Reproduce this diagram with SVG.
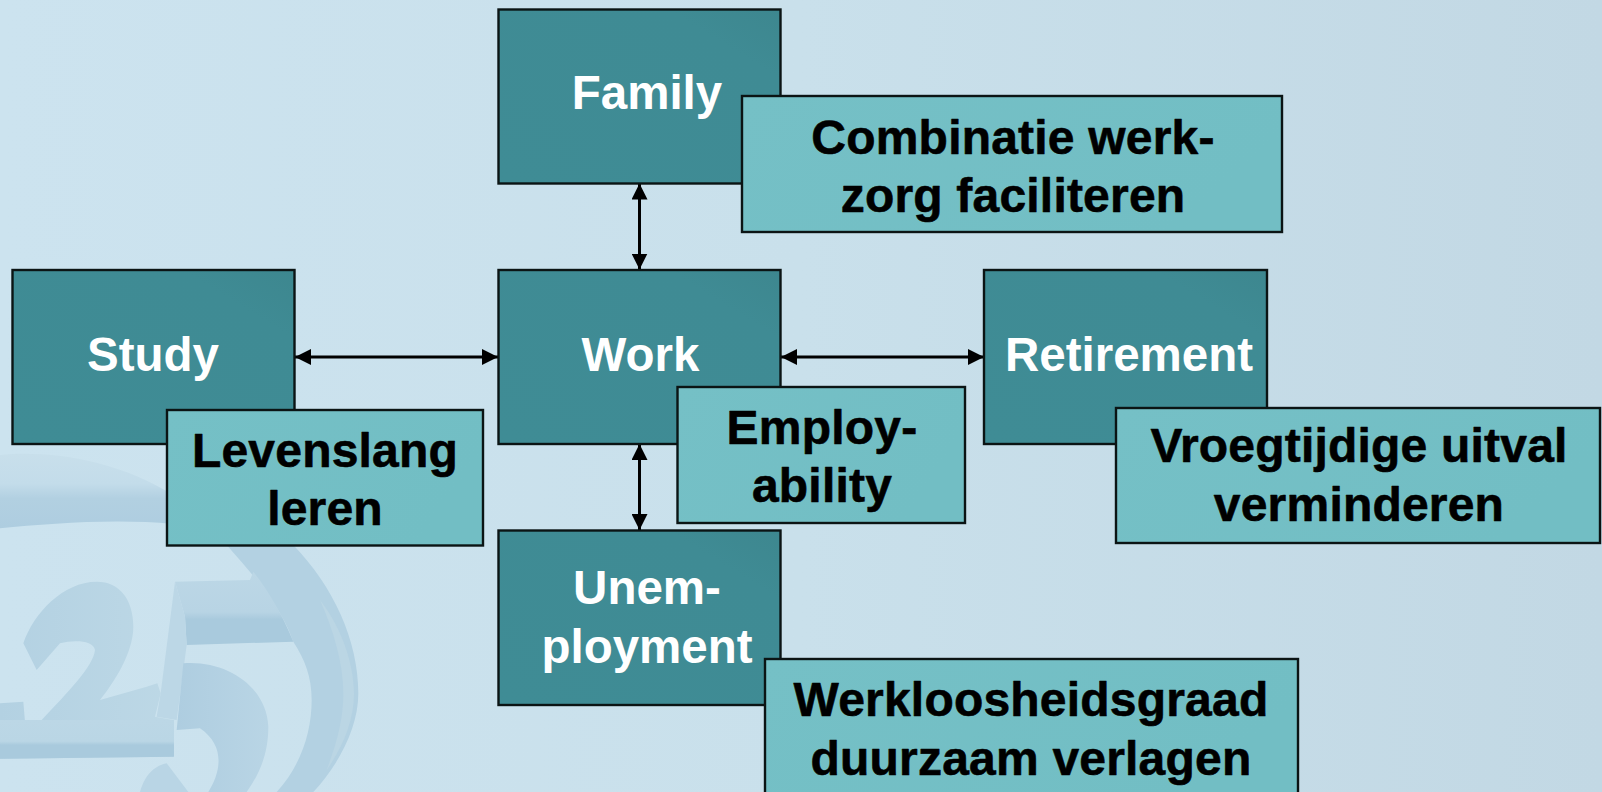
<svg xmlns="http://www.w3.org/2000/svg" width="1602" height="792" viewBox="0 0 1602 792">
<defs>
<linearGradient id="bg" x1="0" y1="0" x2="1" y2="0"><stop offset="0" stop-color="#cce3ef"/><stop offset="0.5" stop-color="#c9e0eb"/><stop offset="1" stop-color="#c2d8e4"/></linearGradient>
<linearGradient id="dark" x1="0" y1="1" x2="1" y2="0"><stop offset="0" stop-color="#3f8c95"/><stop offset="0.8" stop-color="#3f8b94"/><stop offset="1" stop-color="#3d878f"/></linearGradient>
<linearGradient id="light" x1="0" y1="0" x2="1" y2="0.3"><stop offset="0" stop-color="#75c0c6"/><stop offset="1" stop-color="#72bec4"/></linearGradient>
<linearGradient id="ringTop" x1="0" y1="0" x2="0" y2="1"><stop offset="0" stop-color="#c8dfeb"/><stop offset="0.4" stop-color="#c3dcea"/><stop offset="0.6" stop-color="#b2d0e1"/><stop offset="1" stop-color="#aecde0"/></linearGradient>
<linearGradient id="bar" x1="0" y1="0" x2="0" y2="1"><stop offset="0" stop-color="#bcd7e6"/><stop offset="0.55" stop-color="#b8d4e4"/><stop offset="0.65" stop-color="#a9cadd"/><stop offset="1" stop-color="#a9cadd"/></linearGradient>
<linearGradient id="base" x1="0" y1="0" x2="0" y2="1"><stop offset="0" stop-color="#bcd7e6"/><stop offset="0.55" stop-color="#bad6e5"/><stop offset="0.65" stop-color="#a9cadd"/><stop offset="1" stop-color="#a9cadd"/></linearGradient>
<linearGradient id="two" x1="0" y1="0" x2="1" y2="0"><stop offset="0" stop-color="#b3d1e2"/><stop offset="1" stop-color="#bdd8e6"/></linearGradient>
<linearGradient id="bowl" x1="0" y1="0" x2="1" y2="0"><stop offset="0" stop-color="#aecde0"/><stop offset="1" stop-color="#b9d5e5"/></linearGradient>
<marker id="head" viewBox="0 0 16 16" refX="16" refY="8" markerWidth="16" markerHeight="16" markerUnits="userSpaceOnUse" orient="auto-start-reverse"><path d="M0,0 L16,8 L0,16 Z" fill="#000"/></marker>
</defs>
<style>
.d{fill:url(#dark);stroke:#0b1414;stroke-width:2.4}
.l{fill:url(#light);stroke:#0b1414;stroke-width:2.4}
text{font-family:"Liberation Sans",Arial,sans-serif;font-weight:700;text-anchor:middle}
.w{fill:#fff;font-size:47.5px}
.k{fill:#000;font-size:48px;letter-spacing:.2px;stroke:#000;stroke-width:.6px;stroke-linejoin:round}
.c{stroke:#000;stroke-width:3;fill:none;marker-start:url(#head);marker-end:url(#head)}
</style>
<rect width="1602" height="792" fill="url(#bg)"/>
<g id="emblem" transform="translate(0 400) scale(.33333)">
<path d="M0,165 C150,150 350,180 520,285 L520,372 C350,355 150,370 0,385 Z" fill="url(#ringTop)"/>
<path d="M680,435 L880,435 C1000,560 1075,720 1075,880 C1075,980 1020,1090 940,1176 L830,1176 C900,1100 935,1000 935,900 C935,830 915,780 880,725 C850,640 800,570 680,435 Z" fill="#b3d1e2"/>
<path d="M960,600 C1030,690 1062,800 1062,880 C1062,960 1030,1040 980,1110 C1010,1030 1030,960 1030,880 C1030,790 1000,690 960,600 Z" fill="#bbd6e4"/>
<path d="M525,545 L750,540 L760,515 C810,580 850,650 880,725 L560,735 L555,650 Z" fill="url(#bar)"/>
<path d="M525,545 L555,650 L560,735 L530,960 L470,950 L482,880 Z" fill="#bcd7e6"/>
<path d="M70,730 C100,640 190,545 290,545 C360,545 400,600 400,680 C400,760 340,850 300,900 L440,860 L472,850 L482,880 L465,950 L520,960 L520,1070 L0,1076 L0,910 L70,905 L75,965 L125,960 C200,880 280,800 285,750 C280,720 220,720 180,730 L110,810 Z" fill="url(#two)"/>
<path d="M0,960 L522,960 L522,1070 L0,1076 Z" fill="url(#base)"/>
<path d="M550,790 C680,780 800,860 805,980 C805,1060 780,1120 740,1176 L625,1176 C660,1120 680,1040 600,985 L530,990 Z" fill="url(#bowl)"/>
<path d="M420,1176 C435,1120 470,1095 500,1090 L565,1176 Z" fill="#b9d5e5"/>
</g>
<g id="connectors">
<line class="c" x1="639.500" y1="183.500" x2="639.500" y2="269.500"/>
<line class="c" x1="295" y1="357" x2="498" y2="357"/>
<line class="c" x1="781" y1="357" x2="984" y2="357"/>
<line class="c" x1="639.500" y1="444" x2="639.500" y2="530"/>
</g>
<g id="family"><rect class="d" x="498.500" y="9.500" width="282" height="174"/><text class="w" x="647" y="109">Family</text></g>
<g id="combinatie"><rect class="l" x="742" y="96" width="540" height="136"/><text class="k" x="1013" y="154">Combinatie werk-</text><text class="k" x="1013" y="212">zorg faciliteren</text></g>
<g id="study"><rect class="d" x="12.500" y="270" width="282" height="174"/><text class="w" x="153" y="371">Study</text></g>
<g id="work"><rect class="d" x="498.500" y="270" width="282" height="174"/><text class="w" x="640.500" y="371">Work</text></g>
<g id="retirement"><rect class="d" x="984" y="270" width="283" height="174"/><text class="w" x="1129" y="371">Retirement</text></g>
<g id="levenslang"><rect class="l" x="167" y="410" width="316" height="135.500"/><text class="k" x="325" y="467">Levenslang</text><text class="k" x="325" y="525">leren</text></g>
<g id="employability"><rect class="l" x="677.500" y="387" width="287.500" height="136"/><text class="k" x="822" y="444">Employ-</text><text class="k" x="822" y="502">ability</text></g>
<g id="unemployment"><rect class="d" x="498.500" y="530.500" width="282" height="174.500"/><text class="w" x="647" y="604">Unem-</text><text class="w" x="647" y="663">ployment</text></g>
<g id="vroegtijdige"><rect class="l" x="1116" y="408" width="484" height="135"/><text class="k" x="1359" y="462">Vroegtijdige uitval</text><text class="k" x="1359" y="521">verminderen</text></g>
<g id="werkloosheid"><rect class="l" x="765" y="659" width="533" height="140"/><text class="k" x="1031" y="716">Werkloosheidsgraad</text><text class="k" x="1031" y="775">duurzaam verlagen</text></g>
</svg>
